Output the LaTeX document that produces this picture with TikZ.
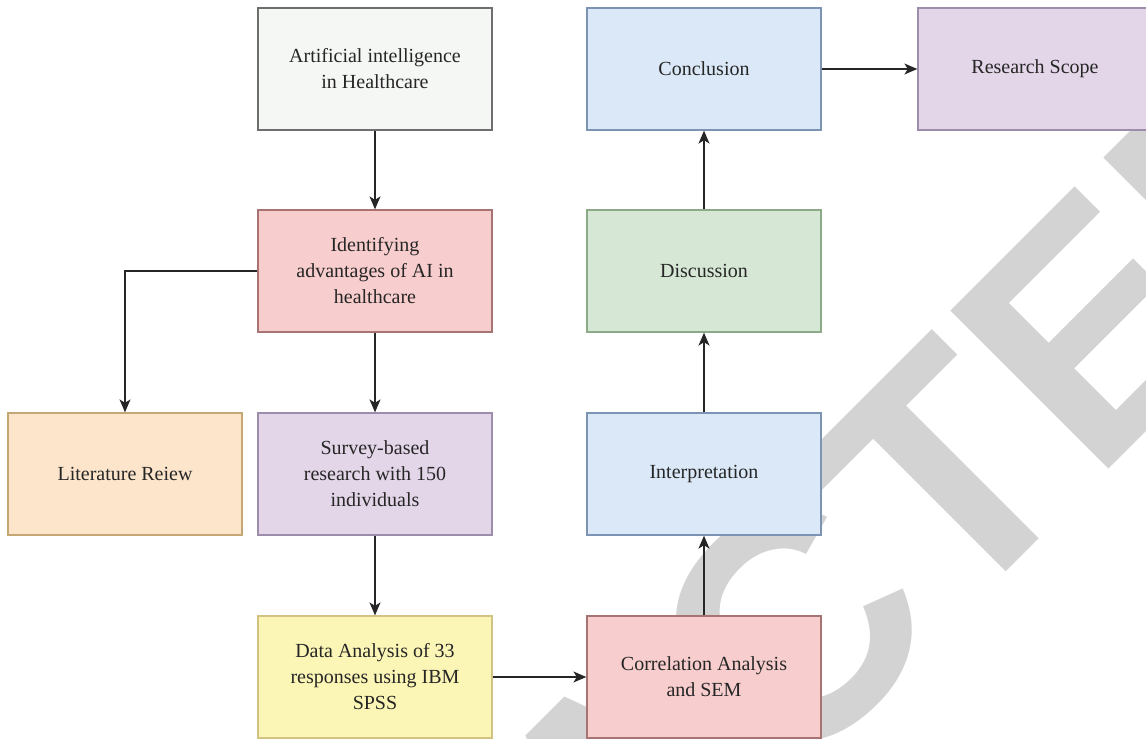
\documentclass[tikz,border=0pt]{standalone}
\usepackage{fontspec}
\setmainfont{Liberation Serif}
\newfontfamily\wmfont{Liberation Sans}
\usetikzlibrary{arrows.meta}
\definecolor{wmgray}{HTML}{D3D3D3}
\definecolor{txt}{HTML}{262626}
\definecolor{grayfill}{HTML}{F5F7F4}\definecolor{grayline}{HTML}{6E6E6E}
\definecolor{pinkfill}{HTML}{F8CDCD}\definecolor{pinkline}{HTML}{A87473}
\definecolor{orangefill}{HTML}{FDE5CC}\definecolor{orangeline}{HTML}{C4A772}
\definecolor{purplefill}{HTML}{E3D6E8}\definecolor{purpleline}{HTML}{9D8CAA}
\definecolor{yellowfill}{HTML}{FBF6B6}\definecolor{yellowline}{HTML}{D2C383}
\definecolor{bluefill}{HTML}{DAE8F7}\definecolor{blueline}{HTML}{7C93B3}
\definecolor{greenfill}{HTML}{D6E8D5}\definecolor{greenline}{HTML}{8DAA88}
\tikzset{
  box/.style={draw, line width=1.3pt, minimum width=234pt, minimum height=122pt,
    inner sep=2pt, align=center, text=txt,
    font=\fontsize{20}{26}\selectfont},
  flow/.style={line width=1.3pt, draw=black!85, -{Stealth[length=13pt,width=11pt,inset=3.5pt]}},
}
\begin{document}
\begin{tikzpicture}[x=1pt,y=-1pt]
\useasboundingbox (0,0) rectangle (1146,739);
\clip (0,0) rectangle (1146,739);
% watermark
\node[font={\wmfont\bfseries\fontsize{325}{325}\selectfont}, text=wmgray, rotate=45,
  anchor=base, inner sep=0pt] (wm) at (704,874) {RETRACTED};
% boxes
\node[box, fill=grayfill, draw=grayline] (ai) at (375,69) {Artificial intelligence\\in Healthcare};
\node[box, fill=pinkfill, draw=pinkline] (id) at (375,271) {Identifying\\advantages of AI in\\healthcare};
\node[box, fill=orangefill, draw=orangeline] (lit) at (125,474) {Literature Reiew};
\node[box, fill=purplefill, draw=purpleline] (sur) at (375,474) {Survey-based\\research with 150\\individuals};
\node[box, fill=yellowfill, draw=yellowline] (data) at (375,677) {Data Analysis of 33\\responses using IBM\\SPSS};
\node[box, fill=pinkfill, draw=pinkline] (corr) at (704,677) {Correlation Analysis\\and SEM};
\node[box, fill=bluefill, draw=blueline] (interp) at (704,474) {Interpretation};
\node[box, fill=greenfill, draw=greenline] (disc) at (704,271) {Discussion};
\node[box, fill=bluefill, draw=blueline] (conc) at (704,69) {Conclusion};
\node[box, fill=purplefill, draw=purpleline] (scope) at (1035,69) {Research Scope};
% connectors
\draw[flow] (ai) -- (id);
\draw[flow] (id.west) -| (lit.north);
\draw[flow] (id) -- (sur);
\draw[flow] (sur) -- (data);
\draw[flow] (data) -- (corr);
\draw[flow] (corr) -- (interp);
\draw[flow] (interp) -- (disc);
\draw[flow] (disc) -- (conc);
\draw[flow] (conc) -- (scope);
\end{tikzpicture}
\end{document}
